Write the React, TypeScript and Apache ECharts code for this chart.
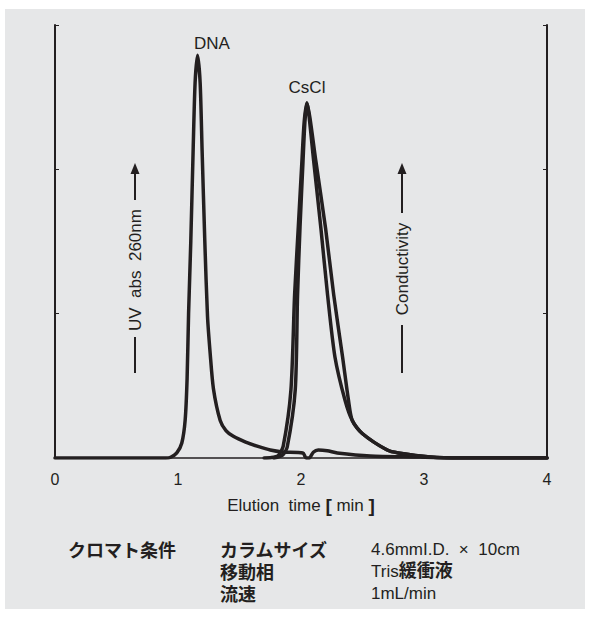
import React, { useEffect, useRef } from "react";
import * as echarts from "echarts";

// Elution time [min], signal (arbitrary units)
const uvTrace: [number, number][] = [
  [0, 0], [0.9, 0], [0.94, 0.005], [0.99, 0.035], [1.031, 0.104], [1.058, 0.26],
  [1.074, 0.55], [1.086, 1.0], [1.104, 1.5], [1.123, 2.13], [1.139, 2.6],
  [1.159, 2.79], [1.18, 2.6], [1.196, 2.13], [1.218, 1.5], [1.24, 0.98],
  [1.262, 0.72], [1.288, 0.48], [1.343, 0.26], [1.39, 0.19], [1.45, 0.15],
  [1.55, 0.11], [1.65, 0.08], [1.75, 0.055], [1.85, 0.042], [2.015, 0.035],
  [2.042, 0.0], [2.067, 0.0], [2.1, 0.04], [2.14, 0.055], [2.213, 0.05],
  [2.295, 0.035], [2.563, 0.014], [2.97, 0.007], [3.25, 0], [4, 0],
];

const conductivityRunA: [number, number][] = [
  [1.7, 0], [1.76, 0.003], [1.815, 0.018], [1.855, 0.08], [1.918, 0.47],
  [1.948, 1.13], [1.978, 1.6], [2.007, 2.05], [2.026, 2.33], [2.048, 2.46],
  [2.072, 2.36], [2.122, 2.05], [2.2, 1.59], [2.266, 1.13], [2.338, 0.7],
  [2.386, 0.4], [2.417, 0.26], [2.498, 0.17], [2.701, 0.055], [2.791, 0.035],
  [3.05, 0.007], [3.3, 0], [4, 0],
];

const conductivityRunB: [number, number][] = [
  [1.78, 0], [1.85, 0.02], [1.888, 0.076], [1.953, 0.47], [1.972, 1.13],
  [1.992, 1.6], [2.016, 2.05], [2.032, 2.33], [2.048, 2.46], [2.064, 2.38],
  [2.104, 2.05], [2.162, 1.59], [2.216, 1.13], [2.276, 0.7], [2.358, 0.4],
  [2.417, 0.26], [2.498, 0.17], [2.701, 0.055], [2.791, 0.035], [3.05, 0.007],
  [3.3, 0], [4, 0],
];

const xTicks = [0, 1, 2, 3, 4];

const peakLabels = [
  { text: "DNA", x: 207, y: 34 },
  { text: "CsCl", x: 302, y: 78 },
];

const conditionRows = [
  { key: "カラムサイズ", value: "4.6mmI.D.  ×  10cm" },
  { key: "移動相", value: "Tris緩衝液" },
  { key: "流速", value: "1mL/min" },
];

const INK = "#231f20";
const BG = "#e6e7e8";
const LATIN = "'Liberation Sans', Arial, 'Noto Sans CJK JP', sans-serif";

function arrow(x: number, bottom: number, lowTop: number, highBottom: number, tip: number) {
  return [
    {
      type: "line",
      shape: { x1: x, y1: bottom, x2: x, y2: lowTop },
      style: { stroke: INK, lineWidth: 2 },
    },
    {
      type: "line",
      shape: { x1: x, y1: highBottom, x2: x, y2: tip + 10 },
      style: { stroke: INK, lineWidth: 2 },
    },
    {
      type: "polygon",
      shape: { points: [[x, tip], [x - 4.5, tip + 11], [x + 4.5, tip + 11]] },
      style: { fill: INK },
    },
  ];
}

export default function App() {
  const ref = useRef<HTMLDivElement>(null);

  useEffect(() => {
    if (!ref.current) return;
    const chart = echarts.init(ref.current, null, { renderer: "svg" });

    const lineStyle = { color: INK, width: 3.5, cap: "round", join: "round" };

    const graphics: any[] = [];
    peakLabels.forEach((p) => {
      graphics.push({
        type: "text",
        x: p.x,
        y: p.y,
        style: {
          text: p.text,
          font: `17px ${LATIN}`,
          fill: INK,
          textAlign: "center",
          textVerticalAlign: "middle",
        },
      });
    });

    graphics.push({
      type: "text",
      x: 130,
      y: 261,
      rotation: Math.PI / 2,
      style: {
        text: "UV  abs  260nm",
        font: `17px ${LATIN}`,
        fill: INK,
        textAlign: "center",
        textVerticalAlign: "middle",
      },
    });
    graphics.push(...arrow(130, 364, 328, 191, 154));

    graphics.push({
      type: "text",
      x: 397,
      y: 260,
      rotation: Math.PI / 2,
      style: {
        text: "Conductivity",
        font: `17px ${LATIN}`,
        fill: INK,
        textAlign: "center",
        textVerticalAlign: "middle",
      },
    });
    graphics.push(...arrow(397, 364, 316, 204, 154));

    graphics.push({
      type: "text",
      x: 63,
      y: 542,
      style: {
        text: "クロマト条件",
        font: `bold 18px ${LATIN}`,
        fill: INK,
        textVerticalAlign: "middle",
      },
    });

    conditionRows.forEach((r, i) => {
      const y = 540 + i * 22;
      graphics.push({
        type: "text",
        x: 215,
        y: y + 2,
        style: {
          text: r.key,
          font: `bold 18px ${LATIN}`,
          fill: INK,
          textVerticalAlign: "middle",
        },
      });
      if (r.value === "Tris緩衝液") {
        graphics.push({
          type: "text",
          x: 366,
          y,
          style: {
            text: "{a|Tris}{b|緩衝液}",
            fill: INK,
            textVerticalAlign: "middle",
            rich: {
              a: { font: `17px ${LATIN}`, fill: INK },
              b: { font: `bold 18px ${LATIN}`, fill: INK },
            },
          },
        });
      } else {
        graphics.push({
          type: "text",
          x: 366,
          y,
          style: {
            text: r.value,
            font: `17px ${LATIN}`,
            fill: INK,
            textVerticalAlign: "middle",
          },
        });
      }
    });

    const yAxisBase = {
      type: "value",
      min: 0,
      max: 3,
      interval: 1,
      axisLine: { show: true, lineStyle: { color: INK, width: 2 } },
      axisTick: { show: true, inside: true, length: 4, lineStyle: { color: INK, width: 1 } },
      axisLabel: { show: false },
      splitLine: { show: false },
    };

    chart.setOption({
      animation: false,
      backgroundColor: BG,
      textStyle: { fontFamily: LATIN },
      grid: { left: 50, right: 38, top: 16, bottom: 151 },
      xAxis: {
        type: "value",
        min: 0,
        max: 4,
        interval: 1,
        axisLine: { show: true, onZero: false, lineStyle: { color: INK, width: 1.5 } },
        axisTick: { show: false },
        splitLine: { show: false },
        axisLabel: {
          color: INK,
          fontSize: 16,
          fontFamily: LATIN,
          margin: 13,
          customValues: xTicks,
          formatter: (v: number) => String(v),
        },
        name: "{a|Elution  time }{b|[}{a| min }{b|]}",
        nameLocation: "middle",
        nameGap: 38,
        nameTextStyle: {
          color: INK,
          rich: {
            a: { fontSize: 17, fontFamily: LATIN, color: INK },
            b: { fontSize: 19, fontWeight: "bold", fontFamily: LATIN, color: INK },
          },
        },
      },
      yAxis: [
        { ...yAxisBase, position: "left" },
        { ...yAxisBase, position: "right" },
      ],
      series: [
        {
          name: "UV abs 260nm",
          type: "line",
          data: uvTrace,
          showSymbol: false,
          smooth: 0.25,
          lineStyle,
          z: 3,
        },
        {
          name: "Conductivity A",
          type: "line",
          yAxisIndex: 1,
          data: conductivityRunA,
          showSymbol: false,
          smooth: 0.25,
          lineStyle,
          z: 3,
        },
        {
          name: "Conductivity B",
          type: "line",
          yAxisIndex: 1,
          data: conductivityRunB,
          showSymbol: false,
          smooth: 0.25,
          lineStyle,
          z: 3,
        },
      ],
      graphic: graphics,
    });

    return () => chart.dispose();
  }, []);

  return (
    <div style={{ position: "fixed", left: 0, top: 0, width: 590, height: 618, background: "#ffffff" }}>
      <div
        ref={ref}
        style={{ position: "absolute", left: 5, top: 9, width: 580, height: 600, background: BG }}
      />
    </div>
  );
}
